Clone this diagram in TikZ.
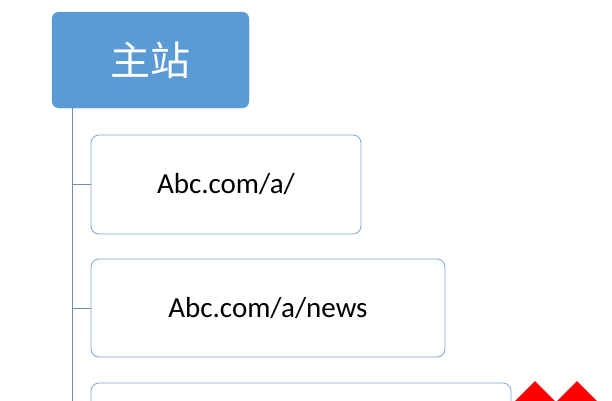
\documentclass[tikz,border=0pt]{standalone}
\usepackage{fontspec}
\setmainfont{Carlito}
\newfontfamily\cjk{Noto Sans CJK SC}
\definecolor{topfill}{HTML}{5B9BD5}
\definecolor{boxline}{HTML}{7FA3CC}
\definecolor{conn}{HTML}{6E8DB0}
\begin{document}
\begin{tikzpicture}[x=1pt,y=-1pt,
  topbox/.style={fill=topfill,draw=topfill,rounded corners=7pt,inner sep=0pt,text=white,font=\cjk\fontsize{40}{42}\selectfont},
  itembox/.style={draw=boxline,line width=0.8pt,fill=white,rounded corners=8pt,inner sep=0pt,font=\fontsize{29}{33}\selectfont},
  link/.style={draw=conn,line width=0.9pt},
  redmark/.style={fill=red,draw=none}]
\useasboundingbox (0,0) rectangle (612,400);
\begin{scope}
\clip (0,0) rectangle (612,400);
\node[topbox,minimum width=197pt,minimum height=96pt] (top) at (150.5,60) {主站};
\node[itembox,minimum width=270pt,minimum height=99pt] (b1) at (226,184.5) {Abc.com/a/};
\node[itembox,minimum width=354pt,minimum height=98pt] (b2) at (268,308) {Abc.com/a/news};
\node[itembox,minimum width=420pt,minimum height=98pt] (b3) at (301,432) {};
\coordinate (trunkTop) at (72,108);
\coordinate (trunkBot) at (72,410);
\coordinate (j1) at (72,184.5);
\coordinate (j2) at (72,308);
\draw[link] (trunkTop) -- (trunkBot);
\draw[link] (j1) -- (b1.west);
\draw[link] (j2) -- (b2.west);
\fill[redmark] (514,402) -- (535,381) -- (556,402) -- (535,423) -- cycle;
\fill[redmark] (556,402) -- (577,381) -- (598,402) -- (577,423) -- cycle;
\end{scope}
\end{tikzpicture}
\end{document}
